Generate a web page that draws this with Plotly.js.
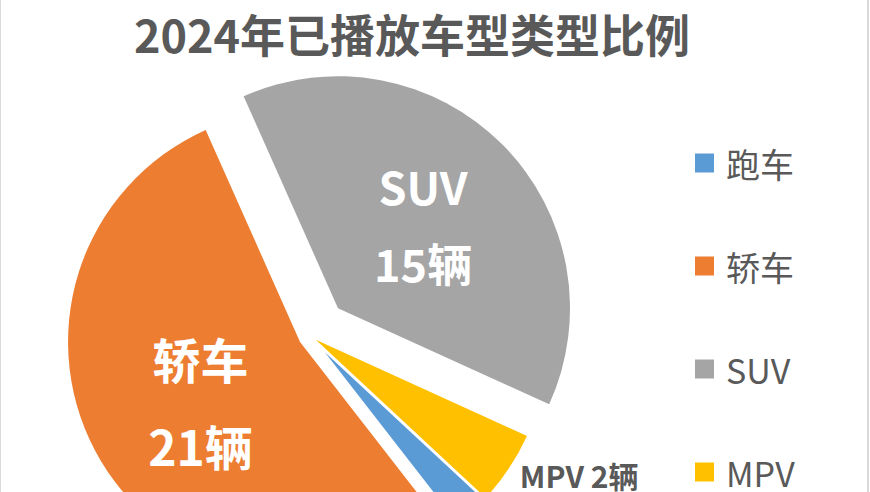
<!DOCTYPE html>
<html>
<head>
<meta charset="utf-8">
<script src="https://cdn.plot.ly/plotly-3.0.1.min.js"></script>
<style>
html,body{margin:0;padding:0;overflow:hidden;background:#fff;width:870px;height:492px;}
#chart{width:870px;height:700px;}
</style>
</head>
<body>
<div id="chart"></div>
<script>
// ---- data ----
var categories = ['跑车', '轿车', 'SUV', 'MPV'];
var counts = [1, 21, 15, 2];
var colors = ['#5B9BD5', '#ED7D31', '#A5A5A5', '#FFC000'];
var titleText = '2024年已播放车型类型比例';
var unit = '辆';

// ---- layout helpers ----
var W = 870, H = 700;
function px(x) { return x / W; }
function py(y) { return 1 - y / H; }

var pulls = [0.095, 0.05, 0.17, 0.03];
var labelTemplates = [
  '',
  '<span style="font-size:48px">%{label}</span><br><span style="font-size:48px">%{value}' + unit + '</span>',
  '<span style="font-size:45px">%{label}</span><br><span style="font-size:45px">%{value}' + unit + '</span>',
  '%{label} %{value}' + unit
];
var textPositions = ['none', 'inside', 'inside', 'outside'];

var cx = 310, cy = 336, r = 232, maxPull = Math.max.apply(null, pulls);
var half = r * (1 + maxPull);

var trace = {
  type: 'pie',
  labels: categories,
  values: counts,
  sort: false,
  direction: 'clockwise',
  rotation: 132.92,
  pull: pulls,
  marker: { colors: colors, line: { width: 0 } },
  texttemplate: labelTemplates,
  textposition: textPositions,
  insidetextorientation: 'horizontal',
  insidetextfont: { family: 'Noto Sans CJK SC', size: [10, 67, 59, 10], color: '#FFFFFF', weight: 'bold' },
  outsidetextfont: { family: 'Noto Sans CJK SC', size: 30, color: '#595959', weight: 'bold' },
  hoverinfo: 'label+value+percent',
  showlegend: false,
  domain: { x: [px(cx - half), px(cx + half)], y: [py(cy + half), py(cy - half)] }
};

// ---- manual legend built from the category arrays ----
var shapes = [];
var annotations = [];
var legendY = [163, 266, 369, 472];
for (var i = 0; i < categories.length; i++) {
  shapes.push({
    type: 'rect', xref: 'paper', yref: 'paper',
    x0: px(695), x1: px(714), y0: py(legendY[i] + 9.5), y1: py(legendY[i] - 9.5),
    fillcolor: colors[i], line: { width: 0 }
  });
  annotations.push({
    xref: 'paper', yref: 'paper', x: px(724), y: py(legendY[i]),
    xanchor: 'left', yanchor: 'middle', showarrow: false,
    text: categories[i],
    font: { family: 'Noto Sans CJK SC', size: 34, color: '#595959' }
  });
}
// chart frame edges
shapes.push({ type: 'line', xref: 'paper', yref: 'paper', x0: px(0.5), x1: px(0.5), y0: 0, y1: 1, line: { color: '#D9D9D9', width: 1 } });
shapes.push({ type: 'line', xref: 'paper', yref: 'paper', x0: px(868), x1: px(868), y0: 0, y1: 1, line: { color: '#D9D9D9', width: 2 } });

var layout = {
  width: W, height: H,
  margin: { l: 0, r: 0, t: 0, b: 0 },
  paper_bgcolor: '#FFFFFF',
  plot_bgcolor: '#FFFFFF',
  title: {
    text: titleText,
    x: px(412), xanchor: 'center', xref: 'paper',
    y: py(37), yanchor: 'middle', yref: 'container',
    font: { family: 'Noto Sans CJK SC', size: 45, color: '#595959', weight: 'bold' }
  },
  showlegend: false,
  shapes: shapes,
  annotations: annotations
};

Plotly.newPlot('chart', [trace], layout, { displayModeBar: false, staticPlot: true });
</script>
</body>
</html>
